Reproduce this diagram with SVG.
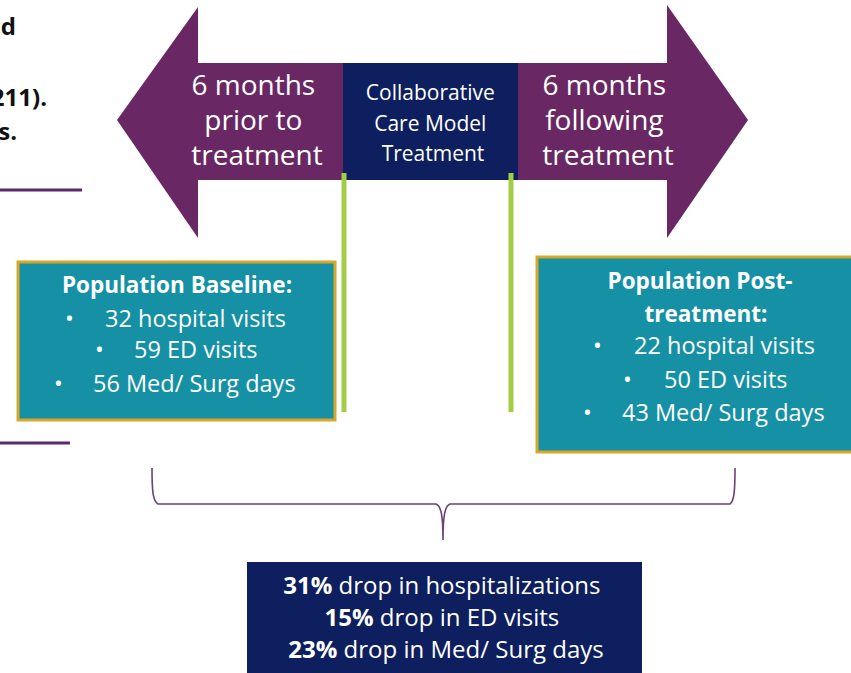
<svg xmlns="http://www.w3.org/2000/svg" width="851" height="673" viewBox="0 0 851 673">
  <style>
    .txt { font-family: "Open Sans", "Noto Sans", "Liberation Sans", sans-serif; fill: #ffffff; }
    .bold { font-weight: 700; }
    .arrow { fill: #692763; }
    .navy { fill: #0d1f5e; }
    .panel { fill: #1590a5; stroke: #d6a728; stroke-width: 3; }
    .rule { stroke: #5a2a6b; stroke-width: 3; fill: none; }
    .lead { font-family: "Open Sans", "Noto Sans", "Liberation Sans", sans-serif; font-weight: 700; fill: #111111; font-size: 24px; }
    .timeline { stroke: #a3cd47; stroke-width: 5; fill: none; }
    .brace { stroke: #6b4277; stroke-width: 1.6; fill: none; }
  </style>

  <rect width="851" height="673" fill="#ffffff"/>

  <!-- fragments of the neighbouring slide text, cut at the left edge -->
  <g id="side-notes">
    <text class="lead" x="16" y="35" text-anchor="end">d</text>
    <text class="lead" x="47" y="106" text-anchor="end">211).</text>
    <text class="lead" x="17" y="140" text-anchor="end">s.</text>
    <line class="rule" x1="0" y1="190" x2="82" y2="190"/>
    <line class="rule" x1="0" y1="443" x2="70" y2="443"/>
  </g>

  <!-- left arrow: period before treatment -->
  <g id="prior">
    <polygon class="arrow" points="117,120 198,7 198,63 345,63 345,180 198,180 198,238"/>
    <text class="txt" font-size="28" text-anchor="middle">
      <tspan x="257" y="95">6 months</tspan>
      <tspan x="257" y="130">prior to</tspan>
      <tspan x="257" y="165">treatment</tspan>
    </text>
  </g>

  <!-- centre block: treatment period -->
  <g id="treatment">
    <rect class="navy" x="343" y="63" width="176" height="117"/>
    <text class="txt" font-size="21" text-anchor="middle">
      <tspan x="433" y="100">Collaborative</tspan>
      <tspan x="433" y="131">Care Model</tspan>
      <tspan x="433" y="161">Treatment</tspan>
    </text>
  </g>

  <!-- right arrow: period after treatment -->
  <g id="following">
    <polygon class="arrow" points="518,63 667,63 667,5 748,120 667,238 667,180 518,180"/>
    <text class="txt" font-size="28" text-anchor="middle">
      <tspan x="608" y="95">6 months</tspan>
      <tspan x="608" y="130">following</tspan>
      <tspan x="608" y="165">treatment</tspan>
    </text>
  </g>

  <!-- connectors: timeline markers and summary brace -->
  <g id="connectors">
    <line class="timeline" x1="344" y1="173" x2="344" y2="412"/>
    <line class="timeline" x1="511" y1="173" x2="511" y2="412"/>
    <path class="brace" d="M152,468 C152,492 153,501 158,504 L436,504 C441,506 443,515 443,540 C443,515 445,506 450,504 L730,504 C734,501 735,492 735,468"/>
  </g>

  <!-- baseline population panel -->
  <g id="baseline">
    <rect class="panel" x="18" y="262" width="317" height="158"/>
    <text class="txt bold" font-size="22.5" x="177" y="293" text-anchor="middle">Population Baseline:</text>
    <text class="txt" font-size="23.5">
      <tspan x="65" y="327">•</tspan><tspan x="105" y="327">32 hospital visits</tspan>
      <tspan x="95" y="358">•</tspan><tspan x="134" y="358">59 ED visits</tspan>
      <tspan x="54" y="392">•</tspan><tspan x="93" y="392">56 Med/ Surg days</tspan>
    </text>
  </g>

  <!-- post-treatment population panel -->
  <g id="post-treatment">
    <rect class="panel" x="537" y="257" width="320" height="195"/>
    <text class="txt bold" font-size="22.5" text-anchor="middle">
      <tspan x="703" y="289">Population Post-</tspan>
      <tspan x="706" y="322">treatment:</tspan>
    </text>
    <text class="txt" font-size="23.5">
      <tspan x="593" y="354">•</tspan><tspan x="634" y="354">22 hospital visits</tspan>
      <tspan x="623" y="388">•</tspan><tspan x="664" y="388">50 ED visits</tspan>
      <tspan x="583" y="421">•</tspan><tspan x="622" y="421">43 Med/ Surg days</tspan>
    </text>
  </g>

  <!-- summary of reductions -->
  <g id="summary">
    <rect class="navy" x="247" y="562" width="395" height="115"/>
    <text class="txt" font-size="24" text-anchor="middle">
      <tspan x="445" y="594"><tspan class="bold">31%</tspan> drop in hospitalizations</tspan>
      <tspan x="445" y="626"><tspan class="bold">15%</tspan> drop in ED visits</tspan>
      <tspan x="446" y="658"><tspan class="bold">23%</tspan> drop in Med/ Surg days</tspan>
    </text>
  </g>
</svg>
